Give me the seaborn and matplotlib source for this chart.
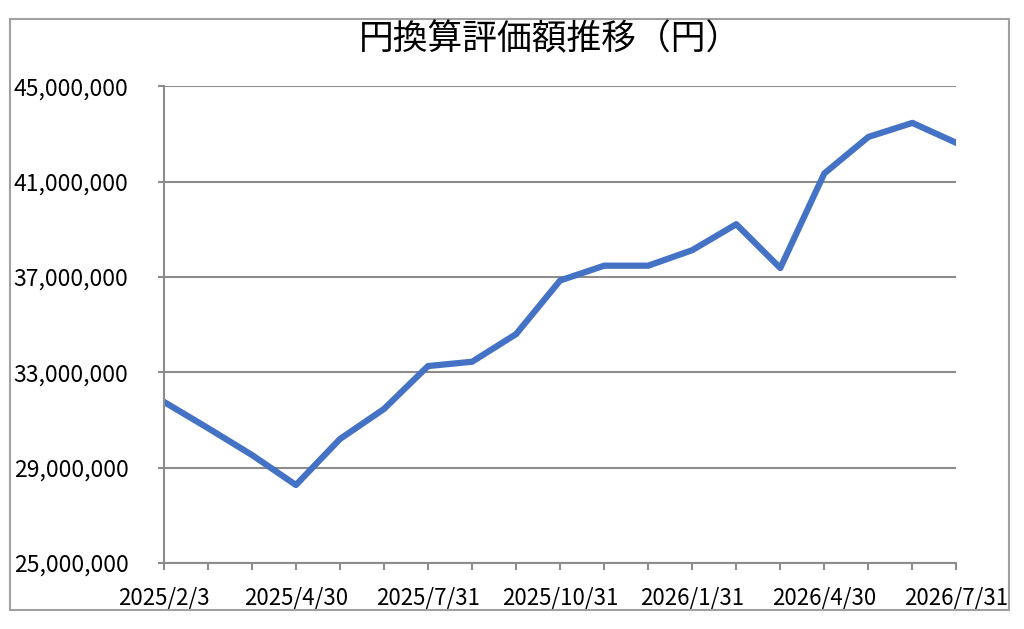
import matplotlib
matplotlib.use("Agg")
import matplotlib.pyplot as plt
import matplotlib.ticker as mticker
from matplotlib.patches import Rectangle
import pandas as pd
import seaborn as sns

# データ
dates = ["2025/2/3", "2025/2/28", "2025/3/31", "2025/4/30", "2025/5/30", "2025/6/30",
         "2025/7/31", "2025/8/29", "2025/9/30", "2025/10/31", "2025/11/28", "2025/12/31",
         "2026/1/31", "2026/2/27", "2026/3/31", "2026/4/30", "2026/5/29", "2026/6/30",
         "2026/7/31"]
values = [31760000, 30660000, 29530000, 28270000, 30200000, 31460000,
          33260000, 33440000, 34600000, 36850000, 37470000, 37470000,
          38120000, 39210000, 37370000, 41340000, 42870000, 43460000,
          42620000]
y_ticks = [25000000, 29000000, 33000000, 37000000, 41000000, 45000000]
title = "円換算評価額推移（円）"

df = pd.DataFrame({"date": dates, "value": values})

sns.set_theme(style="white")
plt.rcParams["font.family"] = ["Noto Sans CJK JP", "DejaVu Sans"]

grey = "#8c8c8c"
fig = plt.figure(figsize=(10.24, 6.29), dpi=100)
ax = fig.add_axes([0.160, 0.105, 0.774, 0.758])

sns.lineplot(data=df, x="date", y="value", ax=ax, color="#4472C4", linewidth=4.5,
             sort=False)

ax.set_xlim(0, len(dates) - 1)
ax.set_ylim(y_ticks[0], y_ticks[-1])
ax.set_yticks(y_ticks)
ax.yaxis.set_major_formatter(mticker.FuncFormatter(lambda v, p: f"{int(v):,}"))
ax.set_xticks(range(len(dates)))
ax.set_xticklabels([d if i % 3 == 0 else "" for i, d in enumerate(dates)])
ax.set_xlabel("")
ax.set_ylabel("")

ax.grid(axis="y", color=grey, linewidth=1.5)
ax.set_axisbelow(True)
for s in ["top", "right"]:
    ax.spines[s].set_visible(False)
for s in ["left", "bottom"]:
    ax.spines[s].set_color(grey)
    ax.spines[s].set_linewidth(1.5)

ax.tick_params(axis="y", length=4.5, width=1.5, color=grey, pad=21, labelsize=16.5,
               labelcolor="black", left=True)
ax.tick_params(axis="x", length=5, width=1.5, color=grey, pad=12, labelsize=16,
               labelcolor="black", bottom=True)

fig.text(550 / 1024, 1 - 40 / 629, title, ha="center", va="center", fontsize=25,
         color="black")

# 外枠
fig.patches.append(Rectangle((10 / 1024, 1 - 610 / 629), 999 / 1024, 591 / 629,
                             transform=fig.transFigure, fill=False,
                             edgecolor="#a0a0a0", linewidth=1.5))

fig.savefig("out.png", dpi=100, facecolor="white")
